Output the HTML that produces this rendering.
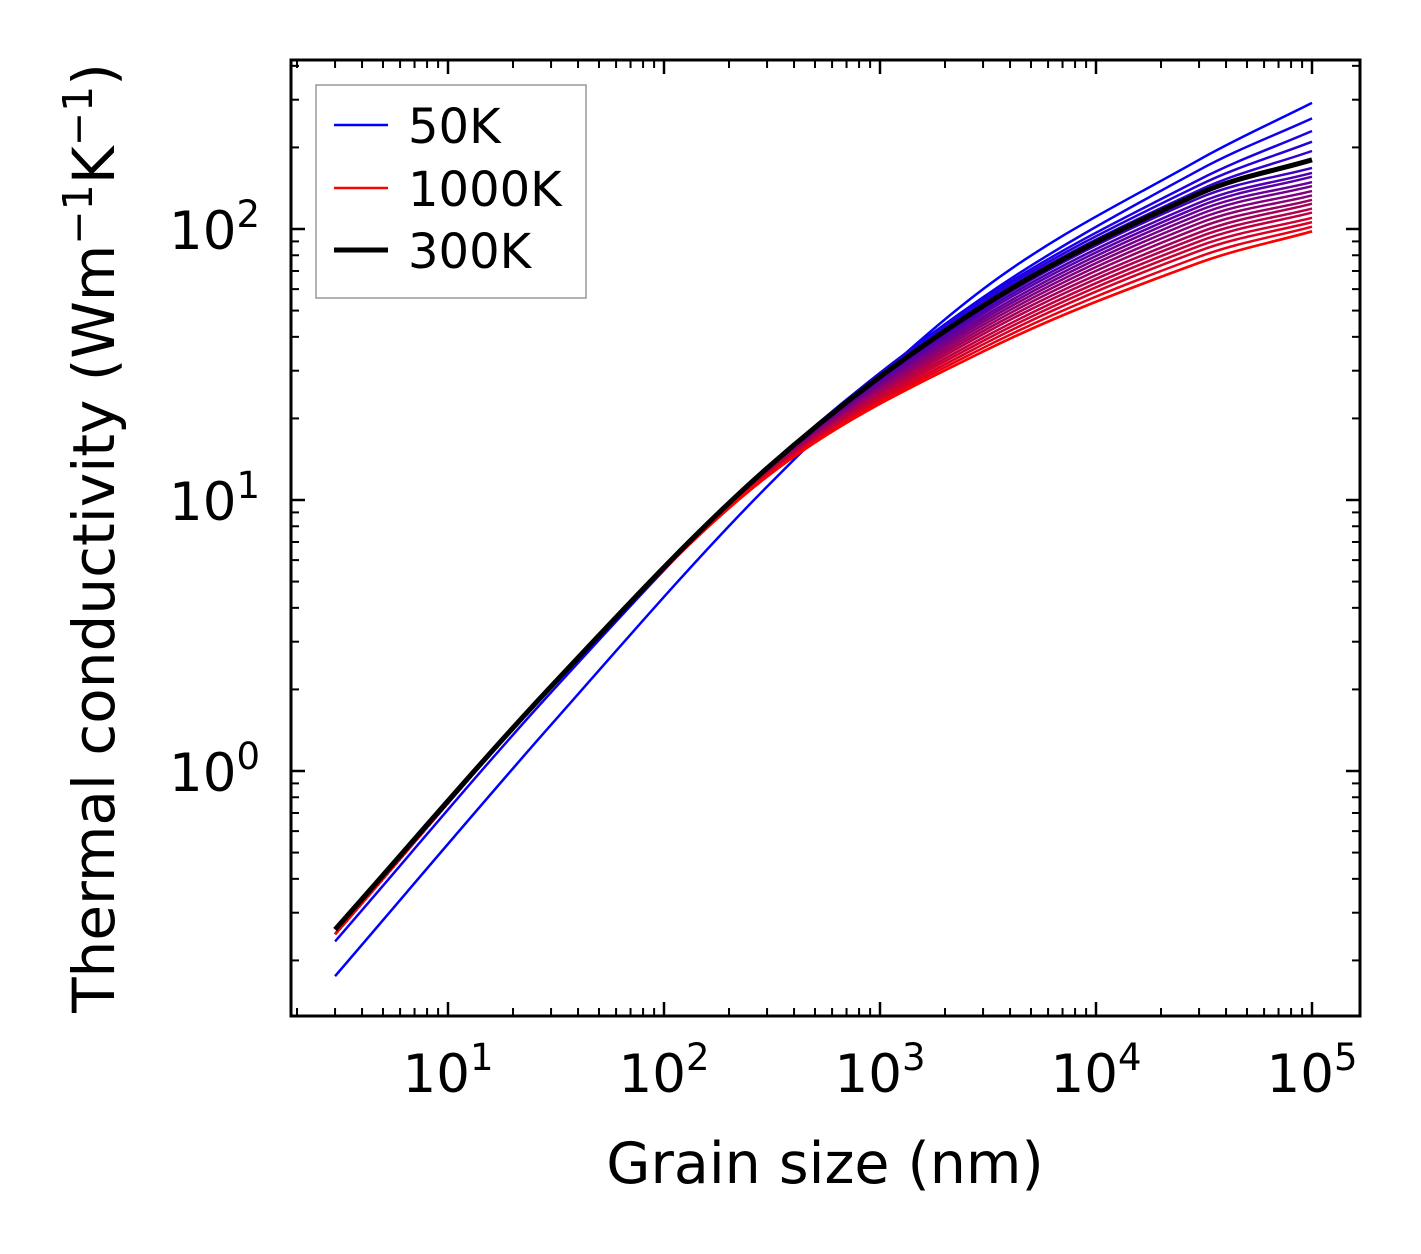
<!DOCTYPE html>
<html><head><meta charset="utf-8"><style>
body{margin:0;background:#fff}
svg{display:block;font-family:"DejaVu Sans","Liberation Sans",sans-serif}
</style></head><body>
<svg id="chart" width="1421" height="1254">
<g id="curves"></g>
<g id="axes"></g>
<g id="legend">
<rect x="316" y="85" width="270" height="213" fill="#fff" stroke="#999" stroke-width="1.5"/>
<line x1="334" y1="125" x2="388" y2="125" stroke="#0000ff" stroke-width="2.5"/>
<text x="408" y="143" font-size="48">50K</text>
<line x1="334" y1="188" x2="388" y2="188" stroke="#ff0000" stroke-width="2.5"/>
<text x="408" y="206" font-size="48">1000K</text>
<line x1="334" y1="250" x2="388" y2="250" stroke="#000" stroke-width="5"/>
<text x="408" y="268" font-size="48">300K</text>
</g>
<text x="825" y="1183" font-size="57" text-anchor="middle">Grain size (nm)</text>
<text transform="translate(114,538) rotate(-90)" font-size="58" text-anchor="middle">Thermal conductivity (Wm<tspan dy="-22" font-size="41">−1</tspan><tspan dy="22">K</tspan><tspan dy="-22" font-size="41">−1</tspan><tspan dy="22">)</tspan></text>
</svg>
<script>
const grainSizes=[3,30,300,3000,30000,100000];
const temps=[50,100,150,200,250,350,400,450,500,550,600,650,700,750,800,850,900,950,975,990,1000];
const kappa=[
[.175,1.48,11.2,60,180,292],
[.235,1.95,13.1,56,165,256],
[.25,2.04,13.1,55,152,230],
[.25,2.04,13.1,54,145,210],
[.25,2.04,13.1,53,139,194],
[.25,2.04,13.0,50.9,130,168],
[.25,2.04,13.0,49.8,125,161],
[.25,2.04,12.9,48.7,121,156],
[.25,2.04,12.9,47.5,117,149],
[.25,2.04,12.8,46.4,113,144],
[.25,2.04,12.7,45.3,109,138],
[.25,2.04,12.7,44.2,105,133],
[.25,2.04,12.6,43.1,101,128],
[.25,2.04,12.6,42.0,97,124],
[.25,2.04,12.5,40.9,93.5,119],
[.25,2.04,12.5,39.7,90,115],
[.25,2.04,12.4,38.6,86.5,110],
[.25,2.04,12.3,37.5,83,106],
[.25,2.04,12.3,36.4,79,102],
[.25,2.04,12.2,35.3,75,98],
[.25,2.04,12.2,35.3,75,98]
];
const kappa300=[.26,2.05,13.1,52,135,180];
const xTicks=[1,2,3,4,5];
const yTicks=[0,1,2];
const X0=448,XD=216,Y0=771,YD=271,L=291,R=1360,T=60,B=1016;
const xs=v=>X0+(Math.log10(v)-1)*XD;
const ys=v=>Y0-Math.log10(v)*YD;
const NS="http://www.w3.org/2000/svg";
function pathFor(vals){
  const p=grainSizes.map((g,i)=>[xs(g),ys(vals[i])]);
  let d=`M${p[0][0]},${p[0][1]}`;
  for(let i=0;i<p.length-1;i++){
    const p0=p[Math.max(0,i-1)],p1=p[i],p2=p[i+1],p3=p[Math.min(p.length-1,i+2)];
    const h=p2[0]-p1[0];
    const s1=(p2[1]-p0[1])/(p2[0]-p0[0]||1), s2=(p3[1]-p1[1])/(p3[0]-p1[0]||1);
    const c1=[p1[0]+h/3,p1[1]+s1*h/3];
    const c2=[p2[0]-h/3,p2[1]-s2*h/3];
    d+=`C${c1[0]},${c1[1]} ${c2[0]},${c2[1]} ${p2[0]},${p2[1]}`;
  }
  return d;
}
const cg=document.getElementById('curves');
kappa.forEach((vals,i)=>{
  const f=i/(kappa.length-1);
  const el=document.createElementNS(NS,'path');
  el.setAttribute('d',pathFor(vals));
  el.setAttribute('fill','none');
  el.setAttribute('stroke',`rgb(${Math.round(255*f)},0,${Math.round(255*(1-f))})`);
  el.setAttribute('stroke-width','2.5');
  
  
  cg.appendChild(el);
});
const bl=document.createElementNS(NS,'path');
bl.setAttribute('d',pathFor(kappa300));
bl.setAttribute('fill','none');
bl.setAttribute('stroke','#000');
bl.setAttribute('stroke-width','5');


cg.appendChild(bl);
const ag=document.getElementById('axes');
function line(x1,y1,x2,y2,w,name){
  const el=document.createElementNS(NS,'line');
  el.setAttribute('x1',x1);el.setAttribute('y1',y1);el.setAttribute('x2',x2);el.setAttribute('y2',y2);
  el.setAttribute('stroke','#000');el.setAttribute('stroke-width',w);
  
  
  ag.appendChild(el);
}
const frame=document.createElementNS(NS,'rect');
frame.setAttribute('x',L);frame.setAttribute('y',T);frame.setAttribute('width',R-L);frame.setAttribute('height',B-T);
frame.setAttribute('fill','none');frame.setAttribute('stroke','#000');frame.setAttribute('stroke-width','3');


ag.appendChild(frame);
for(let e=0;e<=5;e++)for(let m=1;m<10;m++){
  const x=xs(m*Math.pow(10,e));
  if(x<L+2||x>R-2)continue;
  const len=m===1?14:8,w=m===1?2.5:2;
  line(x,B,x,B-len,w,'x-tick');line(x,T,x,T+len,w,'x-tick-top');
}
for(let e=-1;e<=2;e++)for(let m=1;m<10;m++){
  const y=ys(m*Math.pow(10,e));
  if(y<T+2||y>B-2)continue;
  const len=m===1?14:8,w=m===1?2.5:2;
  line(L,y,L+len,y,w,'y-tick');line(R,y,R-len,y,w,'y-tick-right');
}
function label(x,y,e,anchor){
  const t=document.createElementNS(NS,'text');
  t.setAttribute('x',x);t.setAttribute('y',y);t.setAttribute('font-size','53');t.setAttribute('text-anchor',anchor);
  t.innerHTML=`10<tspan dy="-22" font-size="37">${e}</tspan>`;
  
  
  document.getElementById('chart').appendChild(t);
}
xTicks.forEach(e=>label(xs(Math.pow(10,e)),1092,e,'middle'));
yTicks.forEach(e=>label(260,ys(Math.pow(10,e))+20,e,'end'));
</script>
</body></html>
